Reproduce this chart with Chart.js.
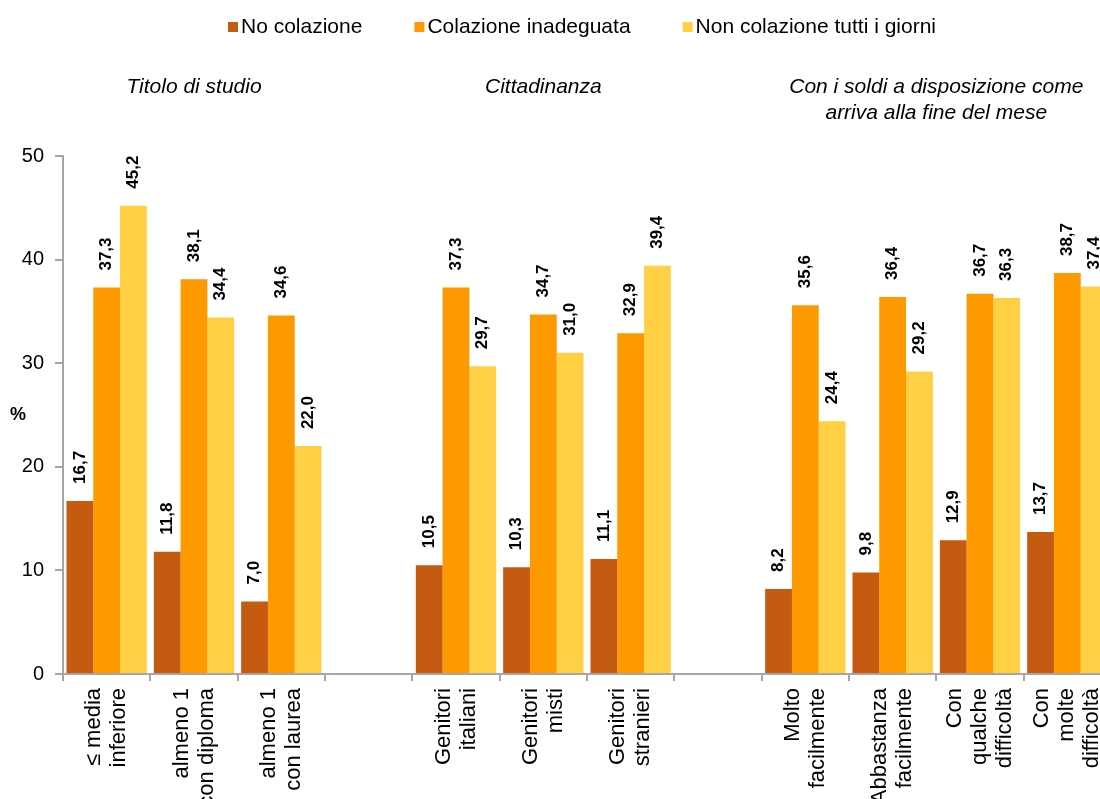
<!DOCTYPE html>
<html>
<head>
<meta charset="utf-8">
<script src="https://cdn.jsdelivr.net/npm/chart.js@4/dist/chart.umd.min.js"></script>
<style>
    html, body { margin: 0; padding: 0; background: #fff; overflow: hidden; }
    #wrap { width: 1112px; height: 799px; }
</style>
</head>
<body>
<div id="wrap"><canvas id="colazioneChart" width="1112" height="799"></canvas></div>
<script>
// categorie (le voci vuote fanno da spazio tra i gruppi)
const categories = [
    ['≤ media', 'inferiore'], ['almeno 1', 'con diploma'], ['almeno 1', 'con laurea'], '',
    ['Genitori', 'italiani'], ['Genitori', 'misti'], ['Genitori', 'stranieri'], '',
    ['Molto', 'facilmente'], ['Abbastanza', 'facilmente'], ['Con', 'qualche', 'difficoltà'], ['Con', 'molte', 'difficoltà']
];

const seriesNames = ['No colazione', 'Colazione inadeguata', 'Non colazione tutti i giorni'];
const seriesColors = ['#C55A11', '#FF9900', '#FFD043'];

const noColazione = [16.7, 11.8, 7.0, null, 10.5, 10.3, 11.1, null, 8.2, 9.8, 12.9, 13.7];
const colazioneInadeguata = [37.3, 38.1, 34.6, null, 37.3, 34.7, 32.9, null, 35.6, 36.4, 36.7, 38.7];
const nonTuttiIGiorni = [45.2, 34.4, 22.0, null, 29.7, 31.0, 39.4, null, 24.4, 29.2, 36.3, 37.4];

// titoli dei gruppi: [prima categoria, ultima categoria, righe]
const groupTitles = [
    [0, 2, ['Titolo di studio']],
    [4, 6, ['Cittadinanza']],
    [8, 11, ['Con i soldi a disposizione come', 'arriva alla fine del mese']]
];

const yTicks = [0, 10, 20, 30, 40, 50];

const FONT = "'Liberation Sans', Arial, sans-serif";
const AXIS_GREY = '#A6A6A6';

function fmt(v) {
    return v.toFixed(1).replace('.', ',');
}

// etichette ruotate sopra le barre, etichette dell'asse x, legenda e titoli dei gruppi
const decorations = {
    id: 'decorations',
    afterDatasetsDraw(chart) {
        const ctx = chart.ctx;
        ctx.save();
        ctx.fillStyle = '#000';
        ctx.font = 'bold 17px ' + FONT;
        ctx.textAlign = 'left';
        ctx.textBaseline = 'middle';
        chart.data.datasets.forEach((ds, i) => {
            const meta = chart.getDatasetMeta(i);
            meta.data.forEach((bar, j) => {
                const v = ds.data[j];
                if (v === null) return;
                ctx.save();
                ctx.translate(bar.x, bar.y - 17);
                ctx.rotate(-Math.PI / 2);
                ctx.fillText(fmt(v), 0, 0);
                ctx.restore();
            });
        });
        ctx.restore();
    },
    afterDraw(chart) {
        const ctx = chart.ctx;
        const xScale = chart.scales.x;
        const area = chart.chartArea;
        ctx.save();
        ctx.fillStyle = '#000';

        // categorie sull'asse x, ruotate e centrate sulla tacca
        ctx.font = '22px ' + FONT;
        ctx.textAlign = 'right';
        ctx.textBaseline = 'middle';
        chart.data.labels.forEach((lab, i) => {
            const lines = Array.isArray(lab) ? lab : [lab];
            ctx.save();
            ctx.translate(xScale.getPixelForValue(i), area.bottom + 14);
            ctx.rotate(-Math.PI / 2);
            lines.forEach((t, k) => ctx.fillText(t, 0, (k - (lines.length - 1) / 2) * 25));
            ctx.restore();
        });

        // legenda
        ctx.font = '21px ' + FONT;
        ctx.textBaseline = 'middle';
        ctx.textAlign = 'left';
        let lx = 228;
        chart.data.datasets.forEach(ds => {
            ctx.fillStyle = ds.backgroundColor;
            ctx.fillRect(lx, 22, 10, 10);
            ctx.fillStyle = '#000';
            ctx.fillText(ds.label, lx + 13, 27);
            lx += 13 + ctx.measureText(ds.label).width + 52;
        });

        // titoli dei gruppi
        ctx.font = 'italic 21px ' + FONT;
        ctx.textAlign = 'center';
        groupTitles.forEach(([a, b, lines]) => {
            const cx = (xScale.getPixelForValue(a) + xScale.getPixelForValue(b)) / 2;
            lines.forEach((t, k) => ctx.fillText(t, cx, 87 + k * 26));
        });

        // unità dell'asse y
        ctx.font = 'bold 18px ' + FONT;
        ctx.fillText('%', 18, 415);
        ctx.restore();
    }
};

new Chart(document.getElementById('colazioneChart').getContext('2d'), {
    type: 'bar',
    data: {
        labels: categories,
        datasets: [noColazione, colazioneInadeguata, nonTuttiIGiorni].map((values, i) => ({
            label: seriesNames[i],
            data: values,
            backgroundColor: seriesColors[i],
            borderWidth: 0,
            categoryPercentage: 0.92,
            barPercentage: 1.0,
        })),
    },
    options: {
        responsive: false,
        animation: false,
        layout: { padding: { top: 156, left: 0, right: 1, bottom: 0 } },
        plugins: {
            legend: { display: false },
            tooltip: { enabled: false },
        },
        scales: {
            x: {
                afterFit: scale => {
                    scale.height = 125;
                    scale.paddingLeft = 0;
                    scale.paddingRight = 0;
                },
                border: { color: AXIS_GREY, width: 2 },
                grid: { drawOnChartArea: false, tickLength: 7, color: AXIS_GREY, lineWidth: 2 },
                ticks: { display: false, autoSkip: false },
            },
            y: {
                min: 0,
                max: 50,
                afterFit: scale => { scale.width = 63; },
                afterBuildTicks: scale => { scale.ticks = yTicks.map(v => ({ value: v })); },
                border: { color: AXIS_GREY, width: 2 },
                grid: { drawOnChartArea: false, tickLength: 8, color: AXIS_GREY, lineWidth: 2 },
                ticks: {
                    padding: 11,
                    color: '#000',
                    font: { family: FONT, size: 20 },
                },
            },
        },
    },
    plugins: [decorations],
});
</script>
</body>
</html>
